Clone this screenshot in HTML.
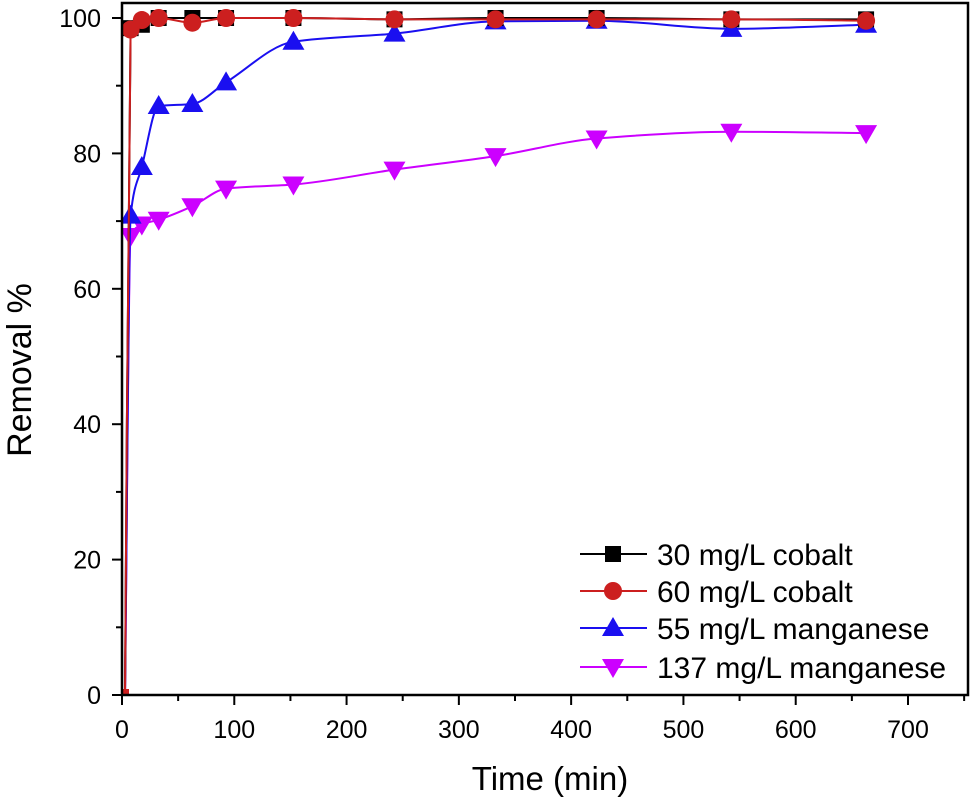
<!DOCTYPE html>
<html><head><meta charset="utf-8"><style>
body{margin:0;background:#fff}
svg{display:block;font-family:"Liberation Sans",Arial,sans-serif}
</style></head><body>
<svg id="chart" width="971" height="806" viewBox="0 0 971 806"></svg>
<script>
const times=[0,5,15,30,60,90,150,240,330,420,540,660];
const co30=[0,98.5,99,100,100,100,100,99.8,100,100,99.8,99.8];
const co60=[0,98.3,99.7,100,99.3,100,100,99.8,99.8,99.8,99.8,99.6];
const mn55=[0,70.8,78,87,87.3,90.5,96.5,97.7,99.5,99.6,98.4,99];
const mn137=[0,67.8,69.5,70.2,72.2,74.8,75.4,77.6,79.6,82.2,83.2,83];
const xTicks=[0,100,200,300,400,500,600,700];
const yTicks=[0,20,40,60,80,100];
const seriesNames=["30 mg/L cobalt","60 mg/L cobalt","55 mg/L manganese","137 mg/L manganese"];

const NS="http://www.w3.org/2000/svg";
const svg=document.getElementById('chart');
const X0=122,XS=(908-122)/700, Y0=695, YS=(695-18)/100;
const xs=v=>X0+v*XS, ys=v=>Y0-v*YS;
function mk(t,a,p){const e=document.createElementNS(NS,t);for(const k in a)e.setAttribute(k,a[k]);(p||svg).appendChild(e);return e;}

xTicks.forEach((v,i)=>{
  const l=mk('line',{x1:xs(v),x2:xs(v),y1:695,y2:705,stroke:'#000','stroke-width':2});
  
  
  const m=mk('line',{x1:xs(v+50),x2:xs(v+50),y1:695,y2:701,stroke:'#000','stroke-width':2});
  
  
  const t=mk('text',{x:xs(v),y:738,'text-anchor':'middle','font-size':25});
  t.textContent=v;
  
  
});
yTicks.forEach(v=>{
  const l=mk('line',{x1:112,x2:122,y1:ys(v),y2:ys(v),stroke:'#000','stroke-width':2});
  
  
  if(v<100){const m=mk('line',{x1:116,x2:122,y1:ys(v+10),y2:ys(v+10),stroke:'#000','stroke-width':2});
  
  }
  const t=mk('text',{x:101,y:ys(v)+9,'text-anchor':'end','font-size':25});
  t.textContent=v;
  
  
});
const xt=mk('text',{x:550,y:790,'text-anchor':'middle','font-size':33});
xt.textContent='Time (min)';


const yt=mk('text',{x:31,y:370,'text-anchor':'middle','font-size':34,transform:'rotate(-90 31 370)'});
yt.textContent='Removal %';



function monotone(pts){
  const n=pts.length,dx=[],s=[],m=[];
  for(let i=0;i<n-1;i++){dx[i]=pts[i+1][0]-pts[i][0];s[i]=(pts[i+1][1]-pts[i][1])/dx[i];}
  m[0]=s[0];m[n-1]=s[n-2];
  for(let i=1;i<n-1;i++){m[i]=(s[i-1]*s[i]<=0)?0:(3*(dx[i-1]+dx[i]))/((2*dx[i]+dx[i-1])/s[i-1]+(dx[i]+2*dx[i-1])/s[i]);}
  let d=`M${pts[0][0]},${pts[0][1]}`;
  for(let i=0;i<n-1;i++){
    const h=dx[i]/3;
    d+=` C${pts[i][0]+h},${pts[i][1]+m[i]*h} ${pts[i+1][0]-h},${pts[i+1][1]-m[i+1]*h} ${pts[i+1][0]},${pts[i+1][1]}`;
  }
  return d;
}
function marker(g,type,x,y,c){
  let e;
  if(type==='sq')e=mk('rect',{x:x-8,y:y-8,width:16,height:16,fill:c},g);
  else if(type==='ci')e=mk('circle',{cx:x,cy:y,r:9,fill:c},g);
  else if(type==='up')e=mk('polygon',{points:`${x},${y-11} ${x-11},${y+8} ${x+11},${y+8}`,fill:c},g);
  else e=mk('polygon',{points:`${x},${y+11} ${x-11},${y-8} ${x+11},${y-8}`,fill:c},g);
  
  
}
const series=[[co30,'#000','sq'],[co60,'#cc1f1f','ci'],[mn55,'#1a0ff0','up'],[mn137,'#cc00ff','dn']];
const order=[3,2,0,1];
const defs=mk('defs',{});
mk('rect',{x:122,y:0,width:846,height:695},mk('clipPath',{id:'clip'},defs));
order.forEach(si=>{
  const [vals,c,m]=series[si];
  const g=mk('g',{'clip-path':'url(#clip)'});
  
  
  const pts=times.map((t,i)=>[xs(t)+3,ys(vals[i])]);
  const p=mk('path',{d:monotone(pts),fill:'none',stroke:c,'stroke-width':2},g);
  
  
  pts.forEach((q,i)=>{ if(i>0) marker(g,m,q[0],q[1],c); else { const s=mk('rect',{x:q[0]-2,y:q[1]-6,width:6,height:6,fill:c},g);   } });
});
// frame
const frame=mk('rect',{x:122,y:3,width:846,height:692,fill:'none',stroke:'#000','stroke-width':2.5});


// legend
const lg=mk('g',{});


const ly=[554,591,628,667];
series.forEach(([v,c,m],i)=>{
  const l=mk('line',{x1:580,x2:647,y1:ly[i],y2:ly[i],stroke:c,'stroke-width':2},lg);
  
  
  marker(lg,m,613,ly[i],c);
  const t=mk('text',{x:657,y:ly[i]+11,'font-size':30},lg);
  t.textContent=seriesNames[i];
  
  
});
</script>
</body></html>
